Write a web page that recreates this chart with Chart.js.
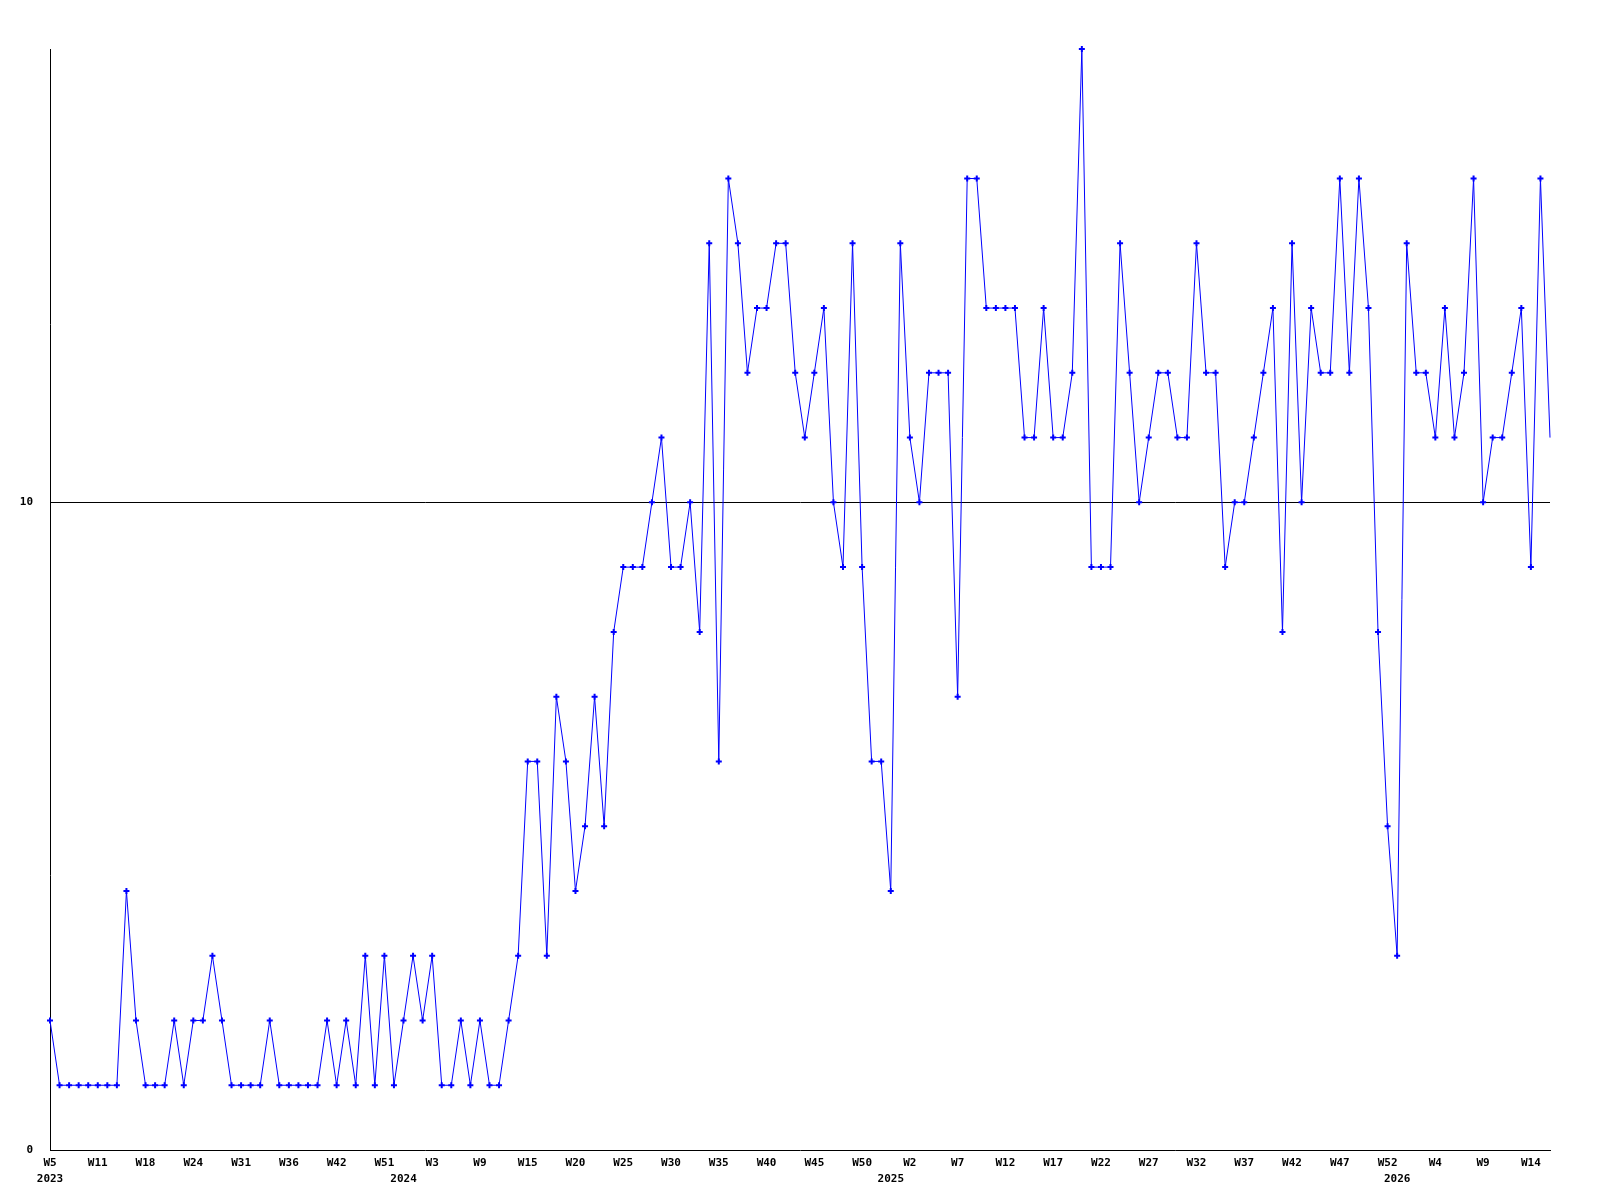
<!DOCTYPE html>
<html>
<head>
<meta charset="utf-8">
<script src="https://cdn.jsdelivr.net/npm/chart.js@4"></script>
<style>
  html, body { margin: 0; padding: 0; background: #fff; }
  #wrap { width: 1600px; height: 1200px; }
</style>
</head>
<body>
<div id="wrap"><canvas id="chart" width="1600" height="1200"></canvas></div>
<script>
// weekly counts, one per point
const values = [
  2, 1, 1, 1, 1, 1, 1, 1, 4, 2,
  1, 1, 1, 2, 1, 2, 2, 3, 2, 1,
  1, 1, 1, 2, 1, 1, 1, 1, 1, 2,
  1, 2, 1, 3, 1, 3, 1, 2, 3, 2,
  3, 1, 1, 2, 1, 2, 1, 1, 2, 3,
  6, 6, 3, 7, 6, 4, 5, 7, 5, 8,
  9, 9, 9, 10, 11, 9, 9, 10, 8, 14,
  6, 15, 14, 12, 13, 13, 14, 14, 12, 11,
  12, 13, 10, 9, 14, 9, 6, 6, 4, 14,
  11, 10, 12, 12, 12, 7, 15, 15, 13, 13,
  13, 13, 11, 11, 13, 11, 11, 12, 17, 9,
  9, 9, 14, 12, 10, 11, 12, 12, 11, 11,
  14, 12, 12, 9, 10, 10, 11, 12, 13, 8,
  14, 10, 13, 12, 12, 15, 12, 15, 13, 8,
  5, 3, 14, 12, 12, 11, 13, 11, 12, 15,
  10, 11, 11, 12, 13, 9, 15, 11
];

// week tick labels, shown on every 5th point
const weekTicks = [
  'W5', 'W11', 'W18', 'W24', 'W31', 'W36', 'W42', 'W51',
  'W3', 'W9', 'W15', 'W20', 'W25', 'W30', 'W35', 'W40',
  'W45', 'W50', 'W2', 'W7', 'W12', 'W17', 'W22', 'W27',
  'W32', 'W37', 'W42', 'W47', 'W52', 'W4', 'W9', 'W14'
];

// year labels and the point they sit under
const years = ['2023', '2024', '2025', '2026'];
const yearIndex = [0, 37, 88, 141];

const yTicks = [0, 10];

// build the category labels (two lines: week, year)
const labels = values.map((v, i) => {
  const week = i % 5 === 0 ? (weekTicks[i / 5] || '') : '';
  const y = yearIndex.indexOf(i);
  return [week, y >= 0 ? years[y] : ''];
});

const ctx = document.getElementById('chart').getContext('2d');
new Chart(ctx, {
  type: 'line',
  data: {
    labels: labels,
    datasets: [{
      data: values,
      borderColor: '#0000ff',
      borderWidth: 1,
      tension: 0,
      clip: false,
      pointStyle: 'cross',
      pointRadius: c => c.dataIndex === values.length - 1 ? 0 : 3,
      pointBorderWidth: 2,
      pointBorderColor: '#0000ff',
      pointBackgroundColor: '#0000ff'
    }]
  },
  options: {
    responsive: false,
    animation: false,
    events: [],
    layout: { padding: { left: 0, right: 50, top: 49, bottom: 0 } },
    plugins: {
      legend: { display: false },
      tooltip: { enabled: false }
    },
    scales: {
      x: {
        offset: false,
        afterFit: s => { s.height = 50; },
        grid: { display: false, drawTicks: false },
        border: { display: true, color: '#000', width: 1 },
        ticks: {
          autoSkip: false,
          maxRotation: 0,
          padding: 5,
          color: '#000',
          font: { family: 'DejaVu Sans Mono', size: 11, weight: 'bold', lineHeight: 1.45 }
        }
      },
      y: {
        min: 0,
        max: 17,
        afterFit: s => { s.width = 50; },
        afterBuildTicks: s => { s.ticks = yTicks.map(v => ({ value: v })); },
        grid: {
          drawTicks: false,
          color: c => c.tick && c.tick.value === 10 ? '#000' : 'rgba(0,0,0,0)',
          lineWidth: 1
        },
        border: { display: true, color: '#000', width: 1 },
        ticks: {
          padding: 17,
          color: '#000',
          font: { family: 'DejaVu Sans Mono', size: 11, weight: 'bold' }
        }
      }
    }
  }
});
</script>
</body>
</html>
